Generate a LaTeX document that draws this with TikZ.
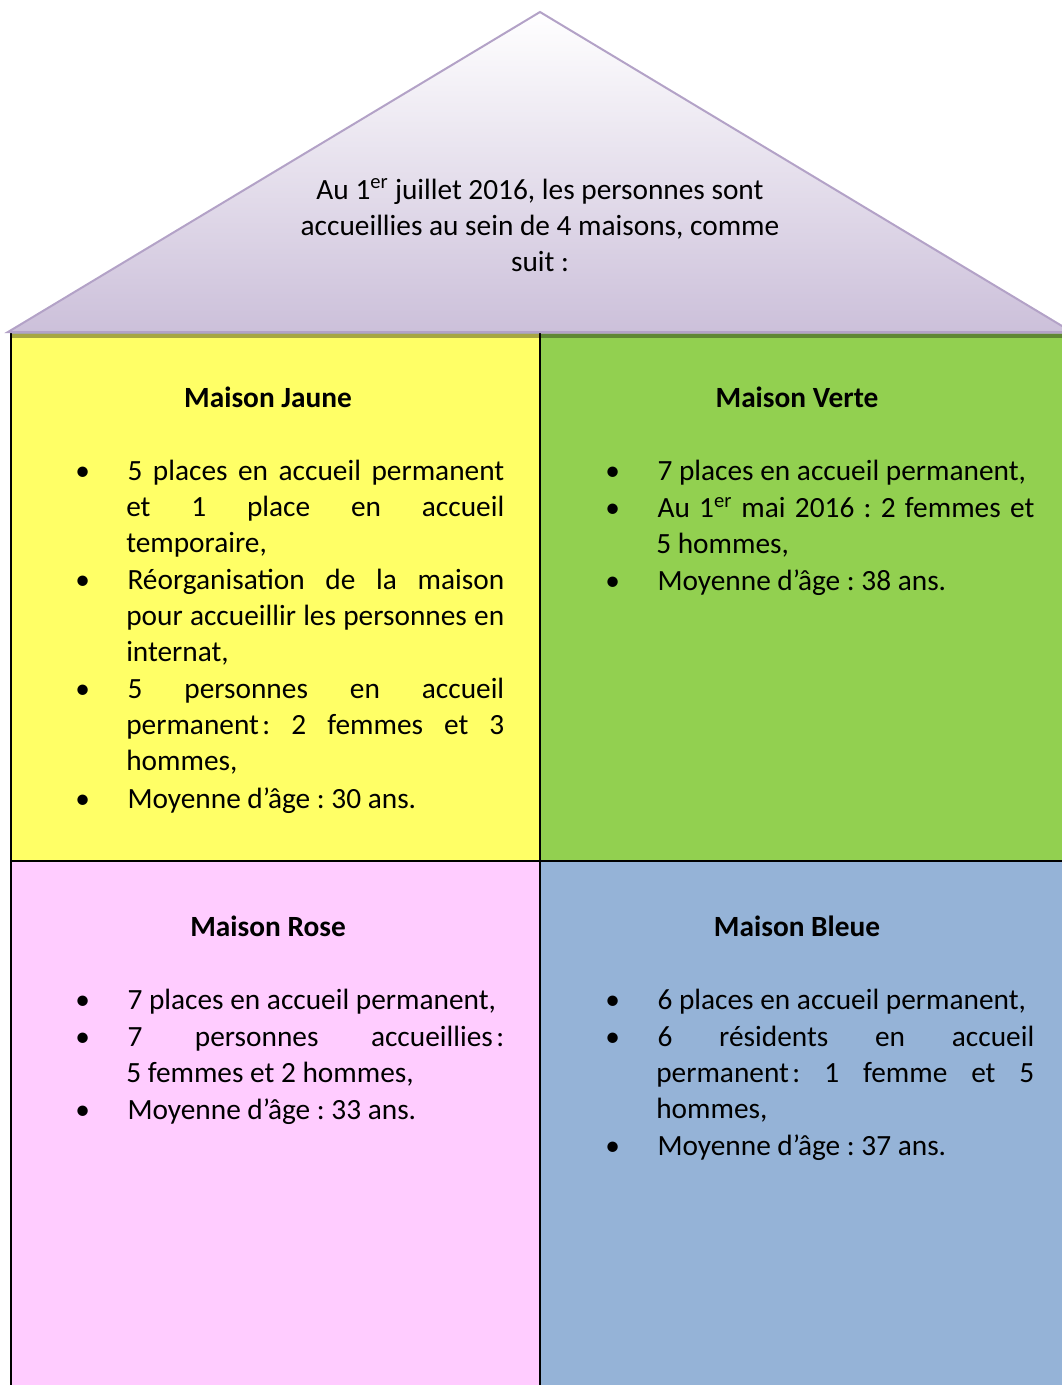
\documentclass[tikz,border=0pt]{standalone}
\usepackage{fontspec}
\setmainfont{Carlito}
\usepackage{enumitem}
\definecolor{jaune}{HTML}{FFFF66}
\definecolor{verte}{HTML}{92D050}
\definecolor{rose}{HTML}{FFCCFF}
\definecolor{bleue}{HTML}{95B3D7}
\definecolor{roofbot}{HTML}{CCC0DA}
\definecolor{roofline}{HTML}{B3A2C7}
\frenchspacing
\newcommand{\fs}{\fontsize{22pt}{27pt}\selectfont\frenchspacing}
\newcommand{\listsetup}{\tolerance=10000 \hyphenpenalty=10000 \relax}
\newcommand{\nbcolon}{\kern0.12em:}
\setlist[itemize]{label=\textbullet, leftmargin=38.25pt, labelindent=0pt, labelwidth=10pt, labelsep=28.25pt, align=left, topsep=0pt, partopsep=0pt, parsep=0pt, itemsep=1pt}
\begin{document}
\begin{tikzpicture}[x=0.75pt, y=-0.75pt,
  listbox/.style={anchor=base west, inner sep=0pt, text width=321.75pt, align=justify, font=\fs\listsetup},
  headbox/.style={anchor=base, inner sep=0pt, font=\fs\bfseries},
  sep/.style={draw=black, line width=1.5pt}]
\useasboundingbox (0,0) rectangle (1062,1385);
\clip (0,0) rectangle (1062,1385);
% boxes
\fill[jaune] (11,334) rectangle (540,861);
\fill[verte] (540,334) rectangle (1080,861);
\fill[rose] (11,861) rectangle (540,1400);
\fill[bleue] (540,861) rectangle (1080,1400);
\fill[black, opacity=0.35] (11,333) rectangle (1080,337.5);
\draw[sep] (11,333) -- (11,1400);
\draw[sep] (540,333) -- (540,1400);
\draw[sep] (11,861) -- (1080,861);
% roof
\shade[top color=white, bottom color=roofbot] (8,332) -- (540,12) -- (1072,332) -- cycle;
\draw[roofline, line width=1.5pt, line join=miter] (8,332) -- (540,12) -- (1072,332) -- cycle;
\node[anchor=base, inner sep=0pt, align=center, font=\fs] (roof) at (540,271)
  {Au 1\textsuperscript{er} juillet 2016, les personnes sont\\accueillies au sein de 4 maisons, comme\\suit :};
% Maison Jaune
\node[headbox] (hj) at (268,407) {Maison Jaune};
\node[listbox] (lj) at (75,444) {\begin{itemize}
\item 5 places en accueil permanent\linebreak et 1 place en accueil\linebreak temporaire,
\item Réorganisation de la maison\linebreak pour accueillir les personnes en\linebreak internat,
\item 5 personnes en accueil\linebreak permanent\nbcolon{} 2 femmes et 3\linebreak hommes,
\item Moyenne d’âge~: 30 ans.
\end{itemize}};
% Maison Verte
\node[headbox] (hv) at (797,407) {Maison Verte};
\node[listbox] (lv) at (605,444) {\begin{itemize}
\item 7 places en accueil permanent,
\item Au 1\textsuperscript{er} mai 2016~: 2 femmes et\linebreak 5 hommes,
\item Moyenne d’âge~: 38 ans.
\end{itemize}};
% Maison Rose
\node[headbox] (hr) at (268,936) {Maison Rose};
\node[listbox] (lr) at (75,973) {\begin{itemize}
\item 7 places en accueil permanent,
\item 7 personnes accueillies\nbcolon\linebreak 5 femmes et 2 hommes,
\item Moyenne d’âge~: 33 ans.
\end{itemize}};
% Maison Bleue
\node[headbox] (hb) at (797,936) {Maison Bleue};
\node[listbox] (lb) at (605,973) {\begin{itemize}
\item 6 places en accueil permanent,
\item 6 résidents en accueil\linebreak permanent\nbcolon{} 1 femme et 5\linebreak hommes,
\item Moyenne d’âge~: 37 ans.
\end{itemize}};
\end{tikzpicture}
\end{document}
